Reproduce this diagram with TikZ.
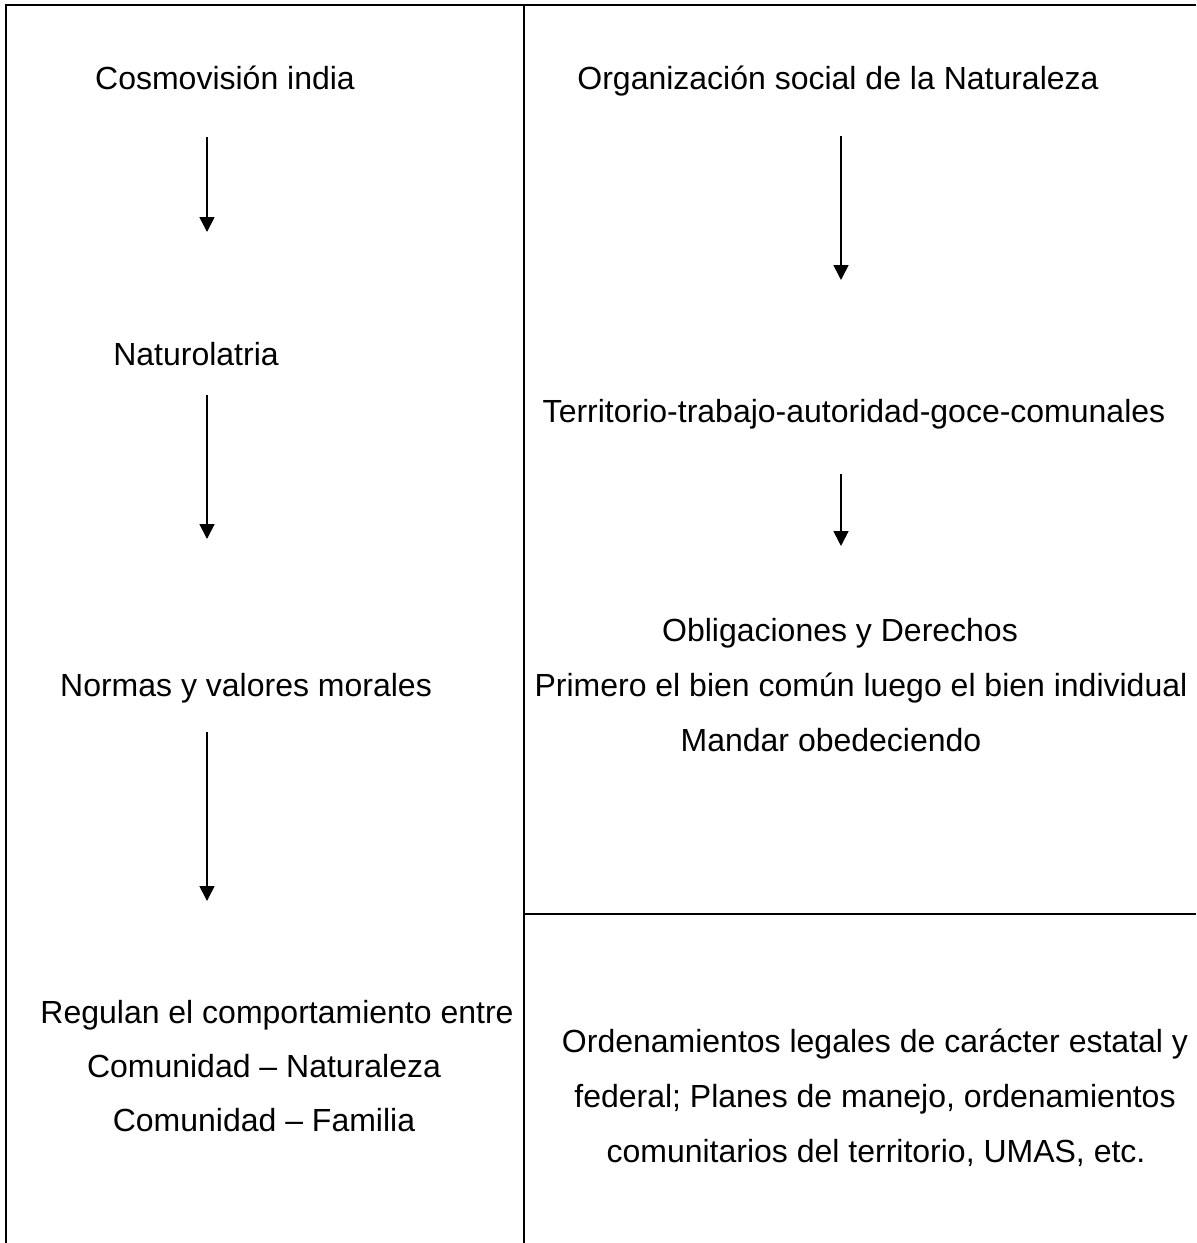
\documentclass[tikz,border=0pt]{standalone}
\usepackage{fontspec}
\setmainfont{Liberation Sans}
\usetikzlibrary{arrows.meta}
\tikzset{
    txt/.style={anchor=base, inner sep=0pt, font=\fontsize{16}{27}\selectfont},
    flow/.style={-{Triangle[width=7.5pt,length=7.5pt]}, line width=0.85pt},
    rule/.style={line width=1pt}
}
\begin{document}
\begin{tikzpicture}[x=0.5pt, y=-0.5pt]
    \useasboundingbox (0,0) rectangle (1196,1243);
    % Frame
    \draw[rule] (6,1243) -- (6,5) -- (1196,5);
    \draw[rule] (524,5) -- (524,1243);
    \draw[rule] (524,914) -- (1196,914);
    % Left column
    \node[txt] (cosmo)  at (225,89)   {Cosmovisión india};
    \node[txt] (natur)  at (196,365)  {Naturolatria};
    \node[txt] (normas) at (246,696)  {Normas y valores morales};
    \node[txt] (regA)   at (277,1023) {Regulan el comportamiento entre};
    \node[txt] (regB)   at (264,1077) {Comunidad -- Naturaleza};
    \node[txt] (regC)   at (264,1131) {Comunidad -- Familia};
    % Right column
    \node[txt] (org)    at (838,89)   {Organización social de la Naturaleza};
    \node[txt] (terr)   at (854,422)  {Territorio-trabajo-autoridad-goce-comunales};
    \node[txt] (oblA)   at (840,641)  {Obligaciones y Derechos};
    \node[txt] (oblB)   at (861,696)  {Primero el bien común luego el bien individual};
    \node[txt] (oblC)   at (831,751)  {Mandar obedeciendo};
    \node[txt] (ordA)   at (875,1052) {Ordenamientos legales de carácter estatal y};
    \node[txt] (ordB)   at (875,1107) {federal; Planes de manejo, ordenamientos};
    \node[txt] (ordC)   at (876,1162) {comunitarios del territorio, UMAS, etc.};
    % Arrow ends
    \coordinate (l1s) at (207,137); \coordinate (l1e) at (207,232);
    \coordinate (l2s) at (207,395); \coordinate (l2e) at (207,539);
    \coordinate (l3s) at (207,732); \coordinate (l3e) at (207,901);
    \coordinate (r1s) at (841,136); \coordinate (r1e) at (841,280);
    \coordinate (r2s) at (841,474); \coordinate (r2e) at (841,546);
    % Arrows
    \foreach \a in {l1,l2,l3,r1,r2}
        \draw[flow] (\a s) -- (\a e);
\end{tikzpicture}
\end{document}
